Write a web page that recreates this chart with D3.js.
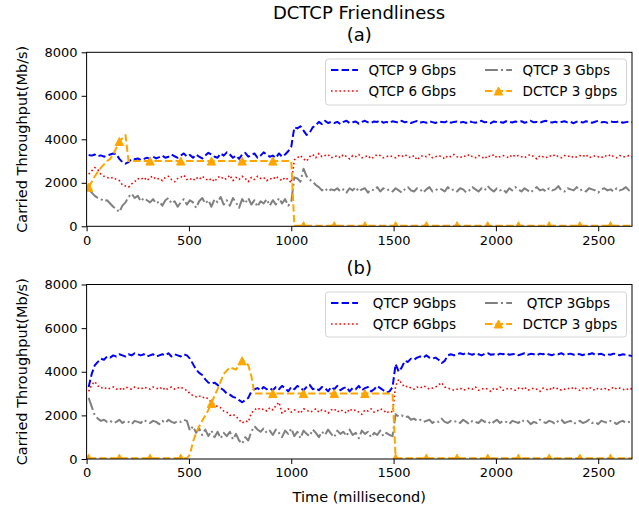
<!DOCTYPE html>
<html>
<head>
<meta charset="utf-8">
<script src="https://cdn.jsdelivr.net/npm/d3@7"></script>
<style>
  body { margin: 0; background: #fff; }
  svg { display: block; font-family: "DejaVu Sans", sans-serif; }
</style>
</head>
<body>
<svg id="chart" width="639" height="510"></svg>
<script>
// ---- Throughput samples (Mb/s), one every 15 ms starting at 10 ms ----
// Each row of 20 samples covers 300 ms.

// Scenario (a)
const aQ9 = [
  3280, 3250, 3300, 3220, 3260, 3200, 3250, 3300, 3350, 3320, 3100, 2950, 2880, 2950, 3100, 3080, 3120, 3050, 3100, 3150,
  3100, 3200, 3120, 3180, 3250, 3150, 3200, 3300, 3220, 3150, 3250, 3350, 3200, 3280, 3150, 3300, 3200, 3120, 3250, 3380,
  3300, 3200, 3150, 3350, 3250, 3400, 3300, 3150, 3250, 3100, 3300, 3380, 3200, 3280, 3350, 3150, 3250, 3400, 3300, 3200,
  3250, 3150, 3350, 3200, 3300, 3450, 3650, 4550, 4500, 4600, 4400, 4200, 4300, 4550, 4650, 4800, 4700, 4850, 4750, 4800,
  4750, 4800, 4700, 4800, 4850, 4750, 4780, 4820, 4720, 4800, 4850, 4780, 4750, 4820, 4800, 4870, 4760, 4800, 4750, 4830,
  4800, 4760, 4850, 4780, 4820, 4750, 4800, 4840, 4770, 4800, 4760, 4830, 4790, 4750, 4820, 4800, 4780, 4850, 4760, 4800,
  4820, 4770, 4800, 4750, 4830, 4790, 4760, 4810, 4850, 4780, 4800, 4740, 4820, 4790, 4800, 4760, 4830, 4800, 4770, 4820,
  4790, 4830, 4760, 4800, 4850, 4780, 4800, 4760, 4820, 4850, 4790, 4770, 4810, 4760, 4800, 4830, 4780, 4800, 4740, 4810,
  4800, 4770, 4830, 4790, 4760, 4810, 4850, 4780, 4800, 4760, 4820, 4790, 4800, 4830, 4760, 4790, 4810, 4780];
const aQ6 = [
  2400, 2550, 2700, 2600, 2400, 2300, 2250, 2200, 2250, 2150, 2100, 1900, 1850, 1800, 1950, 2050, 2200, 2150, 2250, 2100,
  2250, 2300, 2150, 2200, 2100, 2250, 2300, 2150, 2050, 2200, 2250, 2350, 2150, 2200, 2100, 2250, 2150, 2300, 2200, 2100,
  2200, 2050, 2250, 2300, 2150, 2200, 2350, 2100, 2250, 2150, 2300, 2200, 2050, 2250, 2150, 2300, 2200, 2250, 2100, 2200,
  2150, 2300, 2200, 2100, 2250, 2150, 2000, 3050, 3150, 3250, 3100, 3000, 3200, 3300, 3150, 3350, 3200, 3250, 3300, 3150,
  3200, 3250, 3150, 3300, 3200, 3100, 3250, 3200, 3300, 3150, 3200, 3250, 3100, 3200, 3300, 3250, 3150, 3200, 3250, 3200,
  3150, 3250, 3200, 3300, 3200, 3150, 3250, 3050, 3200, 3250, 3200, 3300, 3150, 3200, 3250, 3200, 3100, 3250, 3200, 3300,
  3200, 3150, 3250, 3200, 3300, 3200, 3150, 3250, 3200, 3100, 3250, 3200, 3300, 3150, 3200, 3250, 3200, 3150, 3300, 3200,
  3250, 3200, 3150, 3250, 3300, 3200, 3100, 3250, 3200, 3150, 3250, 3200, 3300, 3200, 3150, 3250, 3200, 3250, 3150, 3200,
  3250, 3200, 3300, 3150, 3200, 3250, 3200, 3150, 3250, 3200, 3300, 3200, 3150, 3250, 3200, 3200, 3250, 3200];
const aQ3 = [
  1700, 1550, 1400, 1300, 1250, 1150, 1200, 1050, 900, 800, 650, 950, 1100, 1350, 1500, 1300, 1400, 1150, 1300, 1200,
  1100, 1250, 1050, 1150, 950, 1200, 1300, 1050, 1150, 900, 1100, 1250, 1000, 1200, 1100, 850, 1150, 1300, 1050, 1200,
  900, 1250, 1100, 1350, 1000, 1200, 950, 1300, 1100, 850, 1250, 1050, 1300, 1000, 1200, 900, 1150, 1050, 1250, 950,
  1200, 1000, 1300, 1050, 1250, 950, 1100, 2250, 2200, 2050, 2650, 2300, 2150, 2050, 1900, 1800, 1650, 1750, 1600, 1700,
  1650, 1750, 1600, 1700, 1550, 1750, 1650, 1800, 1600, 1700, 1750, 1550, 1700, 1650, 1800, 1600, 1750, 1650, 1700, 1600,
  1750, 1650, 1550, 1700, 1800, 1650, 1600, 1750, 1700, 1550, 1700, 1800, 1600, 1650, 1750, 1700, 1600, 1800, 1650, 1700,
  1600, 1750, 1700, 1550, 1650, 1800, 1700, 1600, 1750, 1650, 1850, 1700, 1600, 1750, 1650, 1700, 1550, 1750, 1650, 1800,
  1700, 1600, 1750, 1650, 1550, 1700, 1800, 1650, 1700, 1600, 1750, 1650, 1700, 1850, 1650, 1600, 1750, 1700, 1650, 1800,
  1650, 1700, 1600, 1750, 1700, 1650, 1550, 1700, 1750, 1650, 1700, 1600, 1750, 1650, 1700, 1800, 1650, 1700];
const aDC = [
  1800, 2050, 2300, 2500, 2700, 2850, 3000, 3100, 3300, 3600, 3900, 4050, 4200, 3000, 3000, 3000, 3000, 3000, 3000, 3000,
  3000, 3000, 3000, 3000, 3000, 3000, 3000, 3000, 3000, 3000, 3000, 3000, 3000, 3000, 3000, 3000, 3000, 3000, 3000, 3000,
  3000, 3000, 3000, 3000, 3000, 3000, 3000, 3000, 3000, 3000, 3000, 3000, 3000, 3000, 3000, 3000, 3000, 3000, 3000, 3000,
  3000, 3000, 3000, 3000, 3000, 3000, 3000, 30, 30, 30, 30, 30, 30, 30, 30, 30, 30, 30, 30, 30,
  30, 30, 30, 30, 30, 30, 30, 30, 30, 30, 30, 30, 30, 30, 30, 30, 30, 30, 30, 30,
  30, 30, 30, 30, 30, 30, 30, 30, 30, 30, 30, 30, 30, 30, 30, 30, 30, 30, 30, 30,
  30, 30, 30, 30, 30, 30, 30, 30, 30, 30, 30, 30, 30, 30, 30, 30, 30, 30, 30, 30,
  30, 30, 30, 30, 30, 30, 30, 30, 30, 30, 30, 30, 30, 30, 30, 30, 30, 30, 30, 30,
  30, 30, 30, 30, 30, 30, 30, 30, 30, 30, 30, 30, 30, 30, 30, 30, 30, 30];

// Scenario (b)
const bQ9 = [
  3300, 3900, 4300, 4450, 4600, 4550, 4700, 4650, 4750, 4700, 4800, 4750, 4700, 4800, 4750, 4850, 4800, 4750, 4800, 4700,
  4750, 4800, 4700, 4750, 4800, 4750, 4850, 4700, 4800, 4750, 4700, 4800, 4750, 4600, 4350, 4100, 3950, 3850, 3650, 3500,
  3450, 3500, 3400, 3250, 3150, 3000, 2950, 2850, 2800, 2700, 2600, 2700, 2800, 3100, 3200, 3250, 3150, 3300, 3200, 3250,
  3150, 3300, 3200, 3350, 3250, 3100, 3300, 3200, 3350, 3250, 3150, 3300, 3400, 3200, 3250, 3150, 3300, 3250, 3100, 3300,
  3200, 3350, 3150, 3250, 3300, 3100, 3250, 3200, 3350, 3150, 3250, 3300, 3100, 3200, 3350, 3250, 3150, 3050, 3100, 3300,
  4350, 4000, 4200, 4500, 4450, 4600, 4550, 4650, 4700, 4650, 4750, 4650, 4600, 4650, 4550, 4400, 4500, 4750, 4800, 4750,
  4800, 4850, 4800, 4880, 4820, 4780, 4850, 4800, 4750, 4820, 4850, 4780, 4800, 4760, 4830, 4800, 4850, 4780, 4800, 4820,
  4760, 4800, 4850, 4780, 4820, 4800, 4750, 4830, 4800, 4850, 4790, 4760, 4820, 4800, 4850, 4770, 4800, 4830, 4780, 4820,
  4800, 4760, 4830, 4800, 4850, 4780, 4800, 4820, 4760, 4800, 4780, 4830, 4790, 4760, 4800, 4780, 4750, 4720];
const bQ6 = [
  3100, 3400, 3550, 3350, 3250, 3300, 3200, 3250, 3300, 3200, 3250, 3150, 3300, 3250, 3200, 3300, 3250, 3200, 3300, 3250,
  3200, 3300, 3250, 3200, 3300, 3150, 3250, 3300, 3200, 3250, 3300, 3200, 3150, 3000, 2900, 2850, 2900, 2800, 2850, 2750,
  2600, 2500, 2400, 2350, 2200, 2150, 2000, 2050, 1950, 1800, 1650, 1750, 1700, 2100, 2250, 2350, 2250, 2300, 2200, 2350,
  2250, 2450, 2600, 2100, 2200, 2300, 2150, 2250, 2200, 2100, 2300, 2250, 2150, 2200, 2300, 2150, 2250, 2200, 2100, 2250,
  2300, 2150, 2250, 2200, 2100, 2300, 2200, 2250, 2150, 2050, 2250, 2200, 2300, 2150, 2200, 2300, 2250, 2100, 2200, 2150,
  3350, 3650, 3450, 3300, 3350, 3250, 3200, 3300, 3250, 3350, 3300, 3200, 3250, 3300, 3400, 3500, 3300, 3250, 3200, 3150,
  3200, 3250, 3150, 3200, 3250, 3200, 3300, 3150, 3200, 3250, 3200, 3100, 3250, 3200, 3300, 3150, 3200, 3250, 3200, 3150,
  3250, 3200, 3300, 3150, 3200, 3250, 3200, 3100, 3250, 3200, 3150, 3300, 3200, 3250, 3150, 3200, 3250, 3200, 3300, 3200,
  3150, 3250, 3200, 3300, 3200, 3150, 3250, 3200, 3250, 3150, 3200, 3300, 3200, 3250, 3200, 3150, 3250, 3200];
const bQ3 = [
  2800, 2400, 2000, 1850, 1750, 1800, 1700, 1750, 1650, 1700, 1800, 1650, 1750, 1700, 1600, 1750, 1700, 1650, 1800, 1700,
  1650, 1750, 1700, 1600, 1750, 1650, 1800, 1700, 1650, 1750, 1700, 1800, 1750, 1300, 1500, 1200, 1400, 1100, 1350, 1050,
  1300, 1000, 1250, 950, 1200, 1050, 1250, 900, 1150, 850, 700, 1000, 850, 1250, 1500, 1350, 1250, 1400, 1200, 1300,
  1100, 1350, 1200, 1000, 1300, 1150, 1400, 1050, 1250, 950, 1300, 1150, 1050, 1350, 1200, 1000, 1250, 1100, 1350, 1150,
  1000, 1300, 1150, 1250, 1050, 1350, 1100, 1200, 950, 1300, 1150, 1250, 1000, 1200, 1100, 1300, 1050, 1200, 1100, 1050,
  2050, 1950, 2000, 1900, 1950, 1800, 1850, 1750, 1800, 1700, 1750, 1800, 1650, 1750, 1700, 1850, 1700, 1650, 1750, 1700,
  1750, 1650, 1800, 1700, 1600, 1750, 1700, 1650, 1800, 1700, 1750, 1600, 1700, 1800, 1650, 1750, 1700, 1600, 1750, 1700,
  1650, 1800, 1700, 1750, 1600, 1700, 1650, 1800, 1700, 1650, 1750, 1700, 1600, 1750, 1800, 1650, 1700, 1750, 1600, 1700,
  1750, 1650, 1700, 1800, 1650, 1700, 1600, 1750, 1700, 1650, 1750, 1700, 1600, 1700, 1750, 1650, 1700, 1700];
const bDC = [
  40, 40, 40, 40, 40, 40, 40, 40, 40, 40, 40, 40, 40, 40, 40, 40, 40, 40, 40, 40,
  40, 40, 40, 40, 40, 40, 40, 40, 40, 40, 40, 40, 40, 200, 800, 1200, 1500, 1750, 2000, 2250,
  2550, 2900, 3200, 3550, 3900, 4050, 4200, 4150, 4100, 4300, 4500, 4450, 4300, 3800, 3000, 3000, 3000, 3000, 3000, 3000,
  3000, 3000, 3000, 3000, 3000, 3000, 3000, 3000, 3000, 3000, 3000, 3000, 3000, 3000, 3000, 3000, 3000, 3000, 3000, 3000,
  3000, 3000, 3000, 3000, 3000, 3000, 3000, 3000, 3000, 3000, 3000, 3000, 3000, 3000, 3000, 3000, 3000, 3000, 3000, 3000,
  40, 40, 40, 40, 40, 40, 40, 40, 40, 40, 40, 40, 40, 40, 40, 40, 40, 40, 40, 40,
  40, 40, 40, 40, 40, 40, 40, 40, 40, 40, 40, 40, 40, 40, 40, 40, 40, 40, 40, 40,
  40, 40, 40, 40, 40, 40, 40, 40, 40, 40, 40, 40, 40, 40, 40, 40, 40, 40, 40, 40,
  40, 40, 40, 40, 40, 40, 40, 40, 40, 40, 40, 40, 40, 40, 40, 40, 40, 40];

const legendA = ["QTCP 9 Gbps", "QTCP 6 Gbps", "QTCP 3 Gbps", "DCTCP 3 gbps"];
const legendB = [" QTCP 9Gbps", " QTCP 6Gbps", " QTCP 3Gbps", "DCTCP 3 gbps"];

const xTicks = [0, 500, 1000, 1500, 2000, 2500];
const yTicks = [0, 2000, 4000, 6000, 8000];
const xMax = 2665, yMax = 8000;

const sampleStartMs = 10, sampleStepMs = 15, markEvery = 10;
const timeMs = aQ9.map((_, i) => sampleStartMs + i * sampleStepMs);

// ---- Styling ----
const seriesStyle = [
  { color: "#0000ff", width: 2,   dash: "7.4,3.2" },
  { color: "#ff0000", width: 1.6, dash: "1.6,2.6" },
  { color: "#808080", width: 2,   dash: "12.8,3.2,2,3.2" },
  { color: "#ffa500", width: 2,   dash: "7.4,3.2", marker: true }
];
const triangle = "M0,-4L4.2,4L-4.2,4Z";

const svg = d3.select("#chart");
const plotLeft = 86.6, plotRight = 632;

const x = d3.scaleLinear().domain([0, xMax]).range([plotLeft, plotRight]);

const panels = [
  { name: "(a)", top: 52.3, bottom: 226.3, data: [aQ9, aQ6, aQ3, aDC], labels: legendA, legendTop: 59, legendH: 46 },
  { name: "(b)", top: 284.5, bottom: 459, data: [bQ9, bQ6, bQ3, bDC], labels: legendB, legendTop: 292, legendH: 45 }
];

svg.append("text")
  .attr("x", 359).attr("y", 19)
  .attr("text-anchor", "middle")
  .attr("font-size", 18)
  .text("DCTCP Friendliness");

panels.forEach((p, pi) => {
  const y = d3.scaleLinear().domain([0, yMax]).range([p.bottom, p.top]);
  const g = svg.append("g");

  const clipId = "clip" + pi;
  svg.append("clipPath").attr("id", clipId)
    .append("rect")
    .attr("x", plotLeft).attr("y", p.top)
    .attr("width", plotRight - plotLeft).attr("height", p.bottom - p.top);

  // panel caption
  g.append("text")
    .attr("x", (plotLeft + plotRight) / 2).attr("y", p.top - 11)
    .attr("text-anchor", "middle")
    .attr("font-size", 18)
    .text(p.name);

  // series
  const plot = g.append("g").attr("clip-path", `url(#${clipId})`);
  const line = d3.line().x((d, i) => x(timeMs[i])).y(d => y(d));
  p.data.forEach((vals, si) => {
    const st = seriesStyle[si];
    plot.append("path")
      .datum(vals)
      .attr("d", line)
      .attr("fill", "none")
      .attr("stroke", st.color)
      .attr("stroke-width", st.width)
      .attr("stroke-dasharray", st.dash)
      .attr("stroke-linejoin", "round");
    if (st.marker) {
      plot.selectAll(null)
        .data(vals.map((v, i) => ({ v, i })).filter(d => d.i % markEvery === 0))
        .enter().append("path")
        .attr("d", triangle)
        .attr("transform", d => `translate(${x(timeMs[d.i])},${y(d.v)})`)
        .attr("fill", st.color)
        .attr("stroke", st.color)
        .attr("stroke-width", 1);
    }
  });

  // axes
  const xAxis = g.append("g")
    .attr("transform", `translate(0,${p.bottom})`)
    .call(d3.axisBottom(x).tickValues(xTicks).tickSize(5).tickPadding(4).tickFormat(d3.format("d")));
  const yAxis = g.append("g")
    .attr("transform", `translate(${plotLeft},0)`)
    .call(d3.axisLeft(y).tickValues(yTicks).tickSize(5).tickPadding(4).tickFormat(d3.format("d")));
  [xAxis, yAxis].forEach(a => {
    a.select(".domain").remove();
    a.selectAll("text").attr("font-size", 13).attr("font-family", "DejaVu Sans").attr("fill", "#000");
    a.selectAll("line").attr("stroke", "#000").attr("stroke-width", 1);
  });

  // frame
  g.append("rect")
    .attr("x", plotLeft).attr("y", p.top)
    .attr("width", plotRight - plotLeft).attr("height", p.bottom - p.top)
    .attr("fill", "none").attr("stroke", "#000").attr("stroke-width", 1);

  // y label
  g.append("text")
    .attr("transform", `translate(26.5,${(p.top + p.bottom) / 2}) rotate(-90)`)
    .attr("text-anchor", "middle")
    .attr("font-size", 14.5)
    .text("Carried Throughput(Mb/s)");

  // legend
  const lg = g.append("g");
  lg.append("rect")
    .attr("x", 325.5).attr("y", p.legendTop)
    .attr("width", 301).attr("height", p.legendH)
    .attr("rx", 3)
    .attr("fill", "#fff").attr("fill-opacity", 0.8)
    .attr("stroke", "#d4d4d4").attr("stroke-width", 1);
  const colX = [331, 485], rowY = [p.legendTop + 11, p.legendTop + 32];
  p.labels.forEach((lab, k) => {
    const st = seriesStyle[k];
    const cx = colX[Math.floor(k / 2)], cy = rowY[k % 2];
    lg.append("line")
      .attr("x1", cx).attr("x2", cx + 27)
      .attr("y1", cy).attr("y2", cy)
      .attr("stroke", st.color).attr("stroke-width", st.width)
      .attr("stroke-dasharray", st.dash);
    if (st.marker) {
      lg.append("path").attr("d", triangle)
        .attr("transform", `translate(${cx + 13.5},${cy})`)
        .attr("fill", st.color).attr("stroke", st.color).attr("stroke-width", 1);
    }
    lg.append("text")
      .attr("x", cx + 37.5).attr("y", cy + 5)
      .attr("font-size", 13.5)
      .style("white-space", "pre")
      .text(lab);
  });
});

svg.append("text")
  .attr("x", (plotLeft + plotRight) / 2).attr("y", 502)
  .attr("text-anchor", "middle")
  .attr("font-size", 14.5)
  .text("Time (millisecond)");
</script>
</body>
</html>
